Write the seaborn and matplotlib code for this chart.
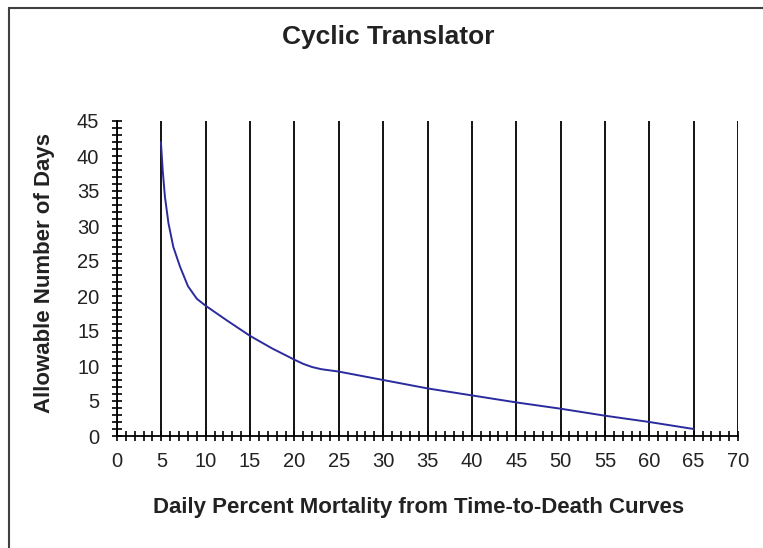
import matplotlib
matplotlib.use("Agg")
import matplotlib.pyplot as plt
import seaborn as sns
import pandas as pd
from matplotlib.ticker import MultipleLocator
from matplotlib.patches import Rectangle

mortality = [4.95, 5.15, 5.4, 5.8, 6.35, 7.1, 8.0, 9.0, 10.0, 12.4, 15.0, 17.5, 20.0,
             21.0, 22.0, 23.0, 25.0, 30.0, 35.0, 40.0, 45.0, 50.0, 55.0, 60.0, 65.0]
days = [42.0, 38.0, 34.2, 30.4, 27.0, 24.2, 21.4, 19.6, 18.6, 16.5, 14.3, 12.5, 10.9,
        10.3, 9.85, 9.55, 9.2, 8.0, 6.8, 5.8, 4.8, 3.9, 2.9, 2.0, 1.0]

title = "Cyclic Translator"
xlabel = "Daily Percent Mortality from Time-to-Death Curves"
ylabel = "Allowable Number of Days"

df = pd.DataFrame({"mortality": mortality, "days": days})

sns.set_style("white")
plt.rcParams['font.family'] = ['Liberation Sans', 'DejaVu Sans']

fig = plt.figure(figsize=(7.63, 5.48), dpi=100)
ax = fig.add_axes([117/763, 1-436/548, (738-117)/763, (436-121)/548])

sns.lineplot(data=df, x="mortality", y="days", ax=ax, color="#2b2b9e", linewidth=1.4)

ax.set_xlim(0, 70)
ax.set_ylim(0, 45)
ax.xaxis.set_major_locator(MultipleLocator(5))
ax.xaxis.set_minor_locator(MultipleLocator(1))
ax.yaxis.set_major_locator(MultipleLocator(5))
ax.yaxis.set_minor_locator(MultipleLocator(1))
ax.tick_params(which="both", direction="inout", color="black", width=1.2,
               bottom=True, left=True, top=False, right=False)
ax.tick_params(which="major", length=7.5, labelsize=14.5, labelcolor="#222222")
ax.tick_params(axis="x", which="major", pad=8)
ax.tick_params(axis="y", which="major", pad=9)
ax.tick_params(which="minor", length=7)
ax.grid(axis="x", which="major", color="black", linewidth=1.3)
ax.grid(axis="y", visible=False)
for s in ["top", "right"]:
    ax.spines[s].set_visible(False)
for s in ["left", "bottom"]:
    ax.spines[s].set_color("black")
    ax.spines[s].set_linewidth(1.3)

ax.set_xlabel("")
ax.set_ylabel("")
fig.text(419/763, 1-508/548, xlabel, ha="center", va="center", fontsize=16,
         fontweight="bold", color="#222222")
fig.text(45/763, 1-273/548, ylabel, ha="center", va="center", rotation=90, fontsize=16,
         fontweight="bold", color="#222222")
fig.text(388/763, 1-37/548, title, ha="center", va="center", fontsize=19,
         fontweight="bold", color="#222222")

fig.patches.append(Rectangle((9/763, -0.1), 1.2, 1 - 8/548 + 0.1, transform=fig.transFigure,
                             fill=False, edgecolor="#404040", linewidth=1.5))

fig.savefig("out.png", dpi=100)
